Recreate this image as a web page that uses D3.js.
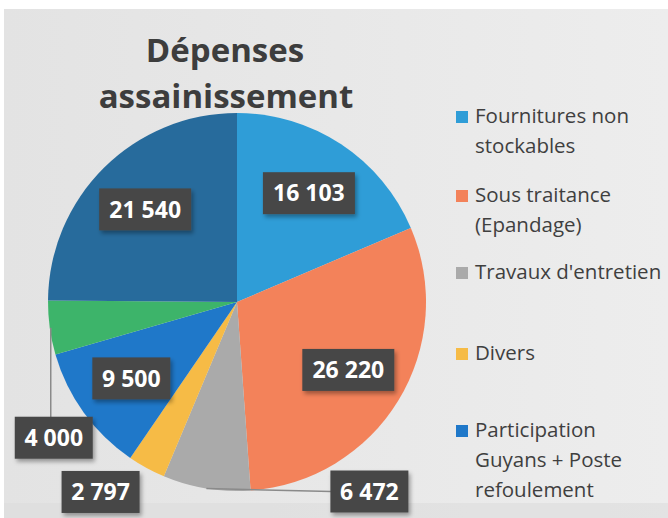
<!DOCTYPE html>
<html>
<head>
<meta charset="utf-8">
<style>
  html, body { margin: 0; padding: 0; background: #fff; }
  svg { display: block; }
  text { font-family: "Open Sans", "Noto Sans", sans-serif; }
</style>
</head>
<body>
<svg width="668" height="518"></svg>
<script src="https://cdn.jsdelivr.net/npm/d3@7"></script>
<script>

// data
var categories = ["Fournitures non stockables", "Sous traitance (Epandage)", "Travaux d'entretien",
                  "Divers", "Participation Guyans + Poste refoulement", "Autres", "Personnel"];
var values = [16103, 26220, 6472, 2797, 9500, 4000, 21540];
var colors = ["#2f9dd7", "#f3825a", "#aaaaaa", "#f6bb46", "#1f78c9", "#3db46a", "#276b9c"];
var valueLabels = ["16 103", "26 220", "6 472", "2 797", "9 500", "4 000", "21 540"];

// legend only shows the first five (the rest is cut off in the original)
var legendLines = [["Fournitures non", "stockables"], ["Sous traitance", "(Epandage)"],
                   ["Travaux d'entretien"], ["Divers"], ["Participation", "Guyans + Poste", "refoulement"]];
var legendY = [123, 202, 279, 360, 437];

var svg = d3.select("svg"),
    width = +svg.attr("width"),
    height = +svg.attr("height");

// background
var defs = svg.append("defs");
var grad = defs.append("linearGradient").attr("id", "bg").attr("x1", 0).attr("x2", 1).attr("y1", 0).attr("y2", 0);
grad.append("stop").attr("offset", "0%").attr("stop-color", "#e3e3e3");
grad.append("stop").attr("offset", "100%").attr("stop-color", "#ededed");
var shadow = defs.append("filter").attr("id", "sh").attr("x", "-20%").attr("y", "-20%").attr("width", "150%").attr("height", "160%");
shadow.append("feDropShadow").attr("dx", 2).attr("dy", 3).attr("stdDeviation", 2).attr("flood-opacity", 0.35);

svg.append("rect").attr("x", 4).attr("y", 9).attr("width", width - 4).attr("height", height - 9).attr("fill", "url(#bg)");
svg.append("rect").attr("x", 4).attr("y", 503).attr("width", width - 4).attr("height", 15).attr("fill", "#dcdcdc").attr("opacity", 0.6);

// title
var title = svg.append("g").attr("fill", "#3d3d3d").attr("font-weight", "bold").attr("text-anchor", "middle");
title.append("text").attr("x", 225).attr("y", 62).attr("font-size", 33).text("Dépenses");
title.append("text").attr("x", 226).attr("y", 108).attr("font-size", 33).text("assainissement");

// pie
var cx = 237, cy = 302, r = 189;
var pie = d3.pie().sort(null).value(function(d) { return d; });
var arcs = pie(values);
var arc = d3.arc().innerRadius(0).outerRadius(r);
var labelArc = d3.arc().innerRadius(r * 0.69).outerRadius(r * 0.69);

var g = svg.append("g").attr("transform", "translate(" + cx + "," + cy + ")");

g.selectAll("path")
  .data(arcs)
  .enter().append("path")
    .attr("d", arc)
    .attr("fill", function(d, i) { return colors[i]; });

function edgePoint(d) {
  var a = (d.startAngle + d.endAngle) / 2;
  return [Math.sin(a) * r, -Math.cos(a) * r];
}

// label positions: centroid inside, small slices pushed outside (manual, like the original)
var labelPos = arcs.map(function(d) { return labelArc.centroid(d); });
var e2 = edgePoint(arcs[2]), e3 = edgePoint(arcs[3]), e5 = edgePoint(arcs[5]);
labelPos[2] = [e2[0] + 163, e2[1] + 3];
labelPos[3] = [e3[0] - 46, e3[1] + 24];
labelPos[5] = [e5[0] + 4, e5[1] + 110];

// leader lines
var leaders = g.append("g").attr("stroke", "#8a8a8a").attr("stroke-width", 1.5).attr("fill", "none");
leaders.append("path").attr("d", "M" + e2[0] + "," + e2[1] + "L" + (labelPos[2][0] - 38) + "," + labelPos[2][1]);
leaders.append("path").attr("d", "M" + (e5[0] + 1) + "," + e5[1] + "V" + (labelPos[5][1] - 20));

var labels = g.selectAll("g.lab")
  .data(arcs)
  .enter().append("g")
    .attr("class", "lab")
    .attr("transform", function(d, i) { return "translate(" + labelPos[i][0] + "," + labelPos[i][1] + ")"; });

labels.each(function(d, i) {
  var sel = d3.select(this);
  var w = valueLabels[i].length > 5 ? 92 : 78;
  sel.append("rect")
    .attr("x", -w / 2).attr("y", -21).attr("width", w).attr("height", 42)
    .attr("fill", "#474747").attr("filter", "url(#sh)");
  sel.append("text")
    .attr("text-anchor", "middle").attr("dy", "0.36em")
    .attr("fill", "#fff").attr("font-weight", "bold").attr("font-size", 23)
    .text(valueLabels[i]);
});

// legend
var legend = svg.append("g").attr("fill", "#3f3f3f").attr("font-size", 20.5);
legendLines.forEach(function(lines, i) {
  legend.append("rect")
    .attr("x", 456).attr("y", legendY[i] - 12).attr("width", 12).attr("height", 12)
    .attr("fill", colors[i]);
  var t = legend.append("text").attr("x", 475).attr("y", legendY[i]);
  lines.forEach(function(s, j) {
    t.append("tspan").attr("x", 475).attr("dy", j === 0 ? 0 : 30).text(s);
  });
});

</script>
</body>
</html>
